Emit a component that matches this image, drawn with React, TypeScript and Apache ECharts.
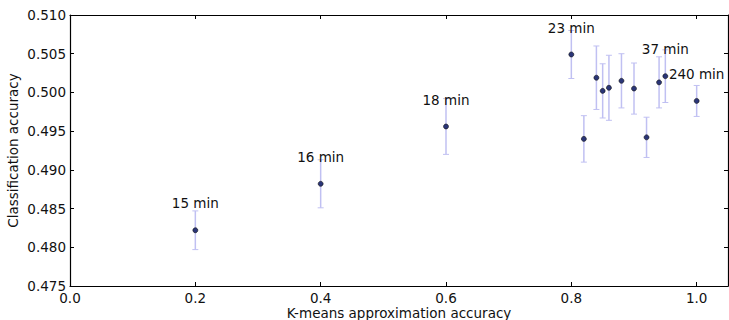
import React, { useEffect, useRef } from "react";
import * as echarts from "echarts";

const xs = [0.2, 0.4, 0.6, 0.8, 0.82, 0.84, 0.85, 0.86, 0.88, 0.9, 0.92, 0.94, 0.95, 1.0];
const ys = [0.4822, 0.4882, 0.4956, 0.5049, 0.494, 0.5019, 0.5002, 0.5006, 0.5015, 0.5005, 0.4942, 0.5013, 0.5021, 0.4989];
const errs = [0.0025, 0.0031, 0.0036, 0.0031, 0.003, 0.0041, 0.0035, 0.0042, 0.0035, 0.0033, 0.0026, 0.0033, 0.0034, 0.002];
const labels = ["15 min", "16 min", "18 min", "23 min", "", "", "", "", "", "", "", "", "37 min", "240 min"];

const xMin = 0;
const xMax = 1.05;
const xInterval = 0.2;
const yMin = 0.475;
const yMax = 0.51;
const yInterval = 0.005;

const FONT = "DejaVu Sans";
const FS = 13.5;

export default function App() {
  const ref = useRef<HTMLDivElement>(null);
  useEffect(() => {
    document.body.style.margin = "0";
    const chart = echarts.init(ref.current!, null, { renderer: "svg" });
    const tickCommon = { show: true, inside: true, length: 4, lineStyle: { color: "#000", width: 1 } };
    const lineCommon = { show: true, onZero: false, lineStyle: { color: "#000", width: 1.2 } };
    const errColor = "#c0c0f2";
    chart.setOption({
      animation: false,
      grid: { left: 70, right: 1, top: 15, bottom: 34, containLabel: false, outerBoundsMode: "none" },
      xAxis: [
        {
          type: "value",
          min: xMin,
          max: xMax,
          interval: xInterval,
          axisLine: lineCommon,
          axisTick: tickCommon,
          splitLine: { show: false },
          axisLabel: {
            fontFamily: FONT,
            fontSize: FS,
            color: "#111",
            margin: 5,
            formatter: (v: number) => {
              const r = Math.round(v / xInterval) * xInterval;
              return Math.abs(r - v) < 1e-9 ? v.toFixed(1) : "";
            },
          },
          name: "K-means approximation accuracy",
          nameLocation: "middle",
          nameGap: 20,
          nameMoveOverlap: false,
          nameTextStyle: { fontFamily: FONT, fontSize: FS, color: "#111" },
        },
        {
          type: "value",
          position: "top",
          min: xMin,
          max: xMax,
          interval: xInterval,
          axisLine: lineCommon,
          axisTick: tickCommon,
          splitLine: { show: false },
          axisLabel: { show: false },
        },
      ],
      yAxis: [
        {
          type: "value",
          min: yMin,
          max: yMax,
          interval: yInterval,
          axisLine: lineCommon,
          axisTick: tickCommon,
          splitLine: { show: false },
          axisLabel: {
            fontFamily: FONT,
            fontSize: FS,
            color: "#111",
            margin: 4,
            formatter: (v: number) => v.toFixed(3),
          },
          name: "Classification accuracy",
          nameLocation: "middle",
          nameGap: 50,
          nameMoveOverlap: false,
          nameTextStyle: { fontFamily: FONT, fontSize: FS, color: "#111" },
        },
        {
          type: "value",
          position: "right",
          min: yMin,
          max: yMax,
          interval: yInterval,
          axisLine: lineCommon,
          axisTick: tickCommon,
          splitLine: { show: false },
          axisLabel: { show: false },
        },
      ],
      series: [
        {
          type: "custom",
          xAxisIndex: 0,
          yAxisIndex: 0,
          encode: { x: 0, y: 1 },
          data: xs.map((x, i) => [x, ys[i], errs[i]]),
          renderItem: (params: any, api: any) => {
            const x = api.value(0);
            const y = api.value(1);
            const e = api.value(2);
            const top = api.coord([x, y + e]);
            const bot = api.coord([x, y - e]);
            const cw = 3;
            const style = { stroke: errColor, lineWidth: 1.5 };
            return {
              type: "group",
              children: [
                { type: "line", shape: { x1: top[0], y1: top[1], x2: bot[0], y2: bot[1] }, style },
                { type: "line", shape: { x1: top[0] - cw, y1: top[1], x2: top[0] + cw, y2: top[1] }, style: { stroke: errColor, lineWidth: 1 } },
                { type: "line", shape: { x1: bot[0] - cw, y1: bot[1], x2: bot[0] + cw, y2: bot[1] }, style: { stroke: errColor, lineWidth: 1 } },
              ],
            };
          },
          z: 2,
        },
        {
          type: "scatter",
          xAxisIndex: 0,
          yAxisIndex: 0,
          symbol: "circle",
          symbolSize: 5,
          itemStyle: { color: "#2a3578", borderColor: "#111", borderWidth: 0.6, opacity: 1 },
          data: xs.map((x, i) => ({ value: [x, ys[i]], name: labels[i] })),
          label: {
            show: true,
            position: "top",
            distance: 17,
            formatter: (p: any) => p.name,
            fontFamily: FONT,
            fontSize: FS,
            color: "#111",
          },
          z: 3,
        },
      ],
    });
    return () => chart.dispose();
  }, []);
  return <div ref={ref} style={{ width: 729, height: 320 }} />;
}
